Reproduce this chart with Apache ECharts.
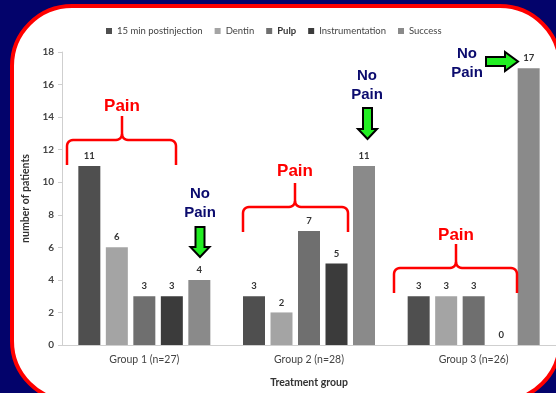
<!DOCTYPE html>
<html>
<head>
<meta charset="utf-8">
<script src="https://cdn.jsdelivr.net/npm/echarts@6/dist/echarts.min.js"></script>
<style>
html,body{margin:0;padding:0;background:#03036b;}
#c{width:556px;height:393px;}
</style>
</head>
<body>
<div id="c"></div>
<script>
const categories = ['Group 1 (n=27)', 'Group 2 (n=28)', 'Group 3 (n=26)'];
const seriesNames = ['15 min postinjection', 'Dentin', 'Pulp', 'Instrumentation', 'Success'];
const postinjection = [11, 3, 3];
const dentin = [6, 2, 3];
const pulp = [3, 7, 3];
const instrumentation = [3, 5, 0];
const success = [4, 11, 17];
const yTicks = [0, 2, 4, 6, 8, 10, 12, 14, 16, 18];
const colors = ['#4f4f4f', '#a4a4a4', '#6f6f6f', '#3b3b3b', '#8a8a8a'];
const allValues = [postinjection, dentin, pulp, instrumentation, success];

const FONT = 'Lato';
const chart = echarts.init(document.getElementById('c'));

function arcPts(cx, cy, r, a0, a1) {
  const pts = [];
  for (let k = 0; k <= 6; k++) {
    const a = a0 + (a1 - a0) * k / 6;
    pts.push([cx + r * Math.cos(a), cy + r * Math.sin(a)]);
  }
  return pts;
}
function braceParts(x1, x2, xc, yEnd, yMid, yPeak) {
  const r = 6, P = Math.PI;
  const left = [[x1, yEnd]].concat(arcPts(x1 + r, yMid + r, r, P, 1.5 * P))
    .concat(arcPts(xc - r, yMid - r, r, 0.5 * P, 0)).concat([[xc, yPeak]]);
  const right = [[xc, yMid - r]].concat(arcPts(xc + r, yMid - r, r, P, 0.5 * P))
    .concat(arcPts(x2 - r, yMid + r, r, 1.5 * P, 2 * P)).concat([[x2, yEnd]]);
  return [left, right];
}
function downArrow(xc, yTop, yHead, yTip) {
  return [[xc - 4.5, yTop], [xc + 4.5, yTop], [xc + 4.5, yHead], [xc + 9.5, yHead], [xc, yTip], [xc - 9.5, yHead], [xc - 4.5, yHead]];
}
function rightArrow(yc, xLeft, xHead, xTip) {
  return [[xLeft, yc - 4.5], [xHead, yc - 4.5], [xHead, yc - 9.5], [xTip, yc], [xHead, yc + 9.5], [xHead, yc + 4.5], [xLeft, yc + 4.5]];
}
const painStyle = { fill: '#ff0000', font: 'bold 17px "Liberation Sans", Arial', textAlign: 'center', textVerticalAlign: 'middle' };
const noPainStyle = { fill: '#0b0b6e', font: 'bold 15px "Liberation Sans", Arial', textAlign: 'center', textVerticalAlign: 'middle', lineHeight: 19 };
const arrowStyle = { fill: '#22ee22', stroke: '#000', lineWidth: 2 };
const braceStyle = { stroke: '#ff0000', lineWidth: 2.5, fill: null };

const braces = [braceParts(67, 176, 122, 165, 140, 116), braceParts(243, 348, 295, 232, 207, 183), braceParts(394, 517, 456, 293, 268, 244)];
const braceGraphics = [];
braces.forEach(function (b) {
  b.forEach(function (pts) {
    braceGraphics.push({ type: 'polyline', z: 10, shape: { points: pts }, style: braceStyle });
  });
});

const option = {
  backgroundColor: '#03036b',
  animation: false,
  color: colors,
  textStyle: { fontFamily: FONT },
  legend: {
    data: seriesNames,
    left: 101,
    top: 21,
    itemWidth: 6,
    itemHeight: 6,
    itemGap: 12,
    icon: 'rect',
    textStyle: { fontSize: 9.5, color: '#444', fontFamily: FONT,
      rich: { b: { fontWeight: 'bold', fontSize: 9.5, color: '#333', fontFamily: FONT } } },
    formatter: function (n) { return n === 'Pulp' ? '{b|Pulp}' : n; }
  },
  grid: { left: 62, right: -5, top: 52, bottom: 48, containLabel: false },
  xAxis: {
    type: 'category',
    data: categories,
    name: 'Treatment group',
    nameLocation: 'middle',
    nameGap: 32,
    nameTextStyle: { fontSize: 10.5, fontWeight: 'bold', color: '#333', fontFamily: FONT },
    axisLine: { lineStyle: { color: '#cfcfcf' } },
    axisTick: { show: false },
    axisLabel: { fontSize: 10.5, color: '#444', margin: 9, fontFamily: FONT }
  },
  yAxis: {
    type: 'value',
    min: 0,
    max: 18,
    interval: 2,
    name: 'number of patients',
    nameLocation: 'middle',
    nameGap: 30,
    nameTextStyle: { fontSize: 10.5, fontWeight: 'bold', color: '#333', fontFamily: FONT },
    axisLine: { show: true, lineStyle: { color: '#cfcfcf' } },
    axisTick: { show: true, length: 4, lineStyle: { color: '#cfcfcf' } },
    splitLine: { show: false },
    axisLabel: { fontSize: 10, fontWeight: 'bold', color: '#444', margin: 8, fontFamily: FONT,
      formatter: function (v) { return yTicks.indexOf(v) >= 0 ? String(v) : ''; } }
  },
  series: seriesNames.map(function (name, i) {
    return {
      name: name,
      type: 'bar',
      data: allValues[i],
      barWidth: 22,
      barGap: '25%',
      itemStyle: { color: colors[i] },
      label: { show: true, position: 'top', distance: 5, fontSize: 9.5, fontWeight: 'bold', color: '#333', fontFamily: FONT }
    };
  }),
  graphic: [
    { type: 'rect', z: -10, silent: true, shape: { x: 12, y: 6, width: 548, height: 395, r: 60 },
      style: { fill: '#ffffff', stroke: '#ff0000', lineWidth: 4 } },
    { type: 'text', z: 10, x: 122, y: 106, style: Object.assign({ text: 'Pain' }, painStyle) },
    { type: 'text', z: 10, x: 295, y: 171, style: Object.assign({ text: 'Pain' }, painStyle) },
    { type: 'text', z: 10, x: 456, y: 235, style: Object.assign({ text: 'Pain' }, painStyle) },
    { type: 'text', z: 10, x: 200, y: 203, style: Object.assign({ text: 'No\nPain' }, noPainStyle) },
    { type: 'text', z: 10, x: 367, y: 85, style: Object.assign({ text: 'No\nPain' }, noPainStyle) },
    { type: 'text', z: 10, x: 467, y: 63, style: Object.assign({ text: 'No\nPain' }, noPainStyle) },
    { type: 'polygon', z: 10, shape: { points: downArrow(200, 227, 247, 257) }, style: arrowStyle },
    { type: 'polygon', z: 10, shape: { points: downArrow(367.5, 108, 129, 139) }, style: arrowStyle },
    { type: 'polygon', z: 10, shape: { points: rightArrow(61.5, 486, 505, 518) }, style: arrowStyle }
  ].concat(braceGraphics)
};
chart.setOption(option);
</script>
</body>
</html>
